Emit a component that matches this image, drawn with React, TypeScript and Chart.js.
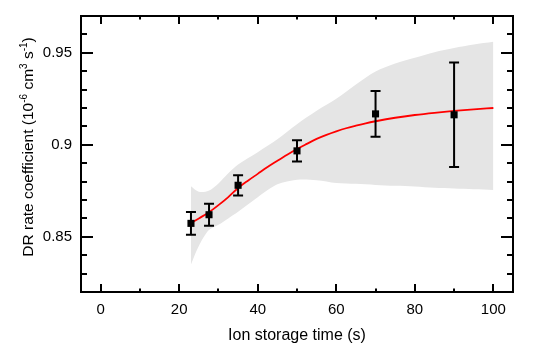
import React, { useEffect, useRef } from "react";
import { Chart, registerables } from "chart.js";

Chart.register(...registerables);

// Measured points with error bars
const pointTimes = [23, 27.6, 35, 50, 70, 90];
const pointRates = [0.8573, 0.862, 0.878, 0.8967, 0.9168, 0.9163];
const pointErrors = [0.0062, 0.006, 0.0055, 0.0058, 0.0124, 0.0284];

// Red fitted curve
const fitTimes = [23, 25, 27.5, 30, 32.5, 35, 37.5, 40, 42.5, 45, 47.5, 50, 52.5, 55, 57.5, 60, 62.5, 65, 67.5, 70, 75, 80, 85, 90, 95, 100];
const fitRates = [0.8574, 0.86, 0.8632, 0.8672, 0.8716, 0.8765, 0.8805, 0.8842, 0.8879, 0.8913, 0.8946, 0.8977, 0.9005, 0.9032, 0.9054, 0.9073, 0.909, 0.9104, 0.9117, 0.9128, 0.9147, 0.9162, 0.9174, 0.9184, 0.9193, 0.92];

// Grey uncertainty band
const bandTimes = [23, 25, 27.5, 30, 32.5, 35, 40, 45, 50, 55, 60, 65, 70, 75, 80, 85, 90, 95, 100];
const bandLower = [0.835, 0.845, 0.8535, 0.8565, 0.86, 0.8636, 0.8715, 0.8785, 0.881, 0.8808, 0.8793, 0.8788, 0.8782, 0.8777, 0.8773, 0.8766, 0.8762, 0.8758, 0.8755];
const bandUpper = [0.8775, 0.8745, 0.875, 0.879, 0.8845, 0.8893, 0.896, 0.903, 0.9112, 0.9185, 0.925, 0.9328, 0.9398, 0.9442, 0.9473, 0.9503, 0.9526, 0.9545, 0.956];

// Axes
const xMin = -5;
const xMax = 105;
const yMin = 0.82;
const yMax = 0.97;
const xTicks = [0, 20, 40, 60, 80, 100];
const xMinorTicks = [10, 30, 50, 70, 90];
const yTicks = [0.85, 0.9, 0.95];
const yMinorTicks = [0.83, 0.84, 0.86, 0.87, 0.88, 0.89, 0.91, 0.92, 0.93, 0.94, 0.96];
const xTitle = "Ion storage time (s)";

const FONT = "'Liberation Sans', Arial, sans-serif";

const decorPlugin = {
  id: "decor",
  afterDatasetsDraw(chart: any) {
    const { ctx, chartArea: a, scales } = chart;
    const x = scales.x;
    const y = scales.y;
    ctx.save();
    ctx.strokeStyle = "#000";
    ctx.lineWidth = 2;
    ctx.lineCap = "butt";
    // error bars
    pointTimes.forEach((t, i) => {
      const px = x.getPixelForValue(t);
      const top = y.getPixelForValue(pointRates[i] + pointErrors[i]);
      const bot = y.getPixelForValue(pointRates[i] - pointErrors[i]);
      ctx.beginPath();
      ctx.moveTo(px, top);
      ctx.lineTo(px, bot);
      ctx.moveTo(px - 5, top);
      ctx.lineTo(px + 5, top);
      ctx.moveTo(px - 5, bot);
      ctx.lineTo(px + 5, bot);
      ctx.stroke();
    });
    // frame
    ctx.strokeRect(a.left, a.top, a.right - a.left, a.bottom - a.top);
    // ticks
    ctx.beginPath();
    const xt = (v: number, len: number) => {
      const px = Math.round(x.getPixelForValue(v));
      ctx.moveTo(px, a.bottom);
      ctx.lineTo(px, a.bottom - len);
      ctx.moveTo(px, a.top);
      ctx.lineTo(px, a.top + len);
    };
    const yt = (v: number, len: number) => {
      const py = Math.round(y.getPixelForValue(v));
      ctx.moveTo(a.left, py);
      ctx.lineTo(a.left + len, py);
      ctx.moveTo(a.right, py);
      ctx.lineTo(a.right - len, py);
    };
    xTicks.forEach((v) => xt(v, 8));
    xMinorTicks.forEach((v) => xt(v, 3.5));
    yTicks.forEach((v) => yt(v, 12));
    yMinorTicks.forEach((v) => yt(v, 6));
    ctx.stroke();

    // x title
    ctx.fillStyle = "#000";
    ctx.font = `16px ${FONT}`;
    ctx.textAlign = "center";
    ctx.textBaseline = "middle";
    ctx.fillText(xTitle, (a.left + a.right) / 2, 336);

    // y title with superscripts
    const parts: [string, boolean][] = [
      ["DR rate coefficient (10", false],
      ["-6", true],
      [" cm", false],
      ["3", true],
      [" s", false],
      ["-1", true],
      [")", false],
    ];
    const mainFont = `15.5px ${FONT}`;
    const supFont = `10px ${FONT}`;
    let total = 0;
    const widths = parts.map(([s, sup]) => {
      ctx.font = sup ? supFont : mainFont;
      const w = ctx.measureText(s).width;
      total += w;
      return w;
    });
    ctx.translate(27, 147);
    ctx.rotate(-Math.PI / 2);
    ctx.textAlign = "left";
    ctx.textBaseline = "alphabetic";
    let cx = -total / 2;
    parts.forEach(([s, sup], i) => {
      ctx.font = sup ? supFont : mainFont;
      ctx.fillText(s, cx, sup ? -0.5 : 6);
      cx += widths[i];
    });
    ctx.restore();
  },
};

export default function App() {
  const ref = useRef<HTMLCanvasElement | null>(null);
  useEffect(() => {
    if (!ref.current) return;
    const chart = new Chart(ref.current, {
      type: "line",
      data: {
        datasets: [
          {
            label: "Measured",
            data: pointTimes.map((t, i) => ({ x: t, y: pointRates[i] })),
            showLine: false,
            pointStyle: "rect",
            pointRadius: 5,
            pointBorderWidth: 0,
            pointBackgroundColor: "#000",
            borderColor: "#000",
            order: 0,
          },
          {
            label: "Fit",
            data: fitTimes.map((t, i) => ({ x: t, y: fitRates[i] })),
            borderColor: "#ff0000",
            borderWidth: 1.8,
            pointRadius: 0,
            cubicInterpolationMode: "monotone",
            fill: false,
            order: 1,
          },
          {
            label: "Lower",
            data: bandTimes.map((t, i) => ({ x: t, y: bandLower[i] })),
            borderColor: "rgba(0,0,0,0)",
            borderWidth: 0,
            pointRadius: 0,
            tension: 0.3,
            fill: false,
            order: 3,
          },
          {
            label: "Upper",
            data: bandTimes.map((t, i) => ({ x: t, y: bandUpper[i] })),
            borderColor: "rgba(0,0,0,0)",
            borderWidth: 0,
            pointRadius: 0,
            tension: 0.3,
            backgroundColor: "#e5e5e5",
            fill: "-1",
            order: 2,
          },
        ],
      },
      options: {
        animation: false,
        responsive: false,
        layout: { padding: { left: 0, top: 16, right: 27, bottom: 0 } },
        plugins: {
          legend: { display: false },
          tooltip: { enabled: false },
        },
        scales: {
          x: {
            type: "linear",
            min: xMin,
            max: xMax,
            grid: { display: false },
            border: { display: false },
            ticks: {
              font: { size: 15, family: FONT },
              color: "#000",
              padding: 1,
              maxRotation: 0,
              callback: (v: any) => String(v),
            },
            afterBuildTicks: (s: any) => {
              s.ticks = xTicks.map((v) => ({ value: v }));
            },
            afterFit: (s: any) => {
              s.height = 57;
            },
          },
          y: {
            type: "linear",
            min: yMin,
            max: yMax,
            grid: { display: false },
            border: { display: false },
            ticks: {
              font: { size: 15, family: FONT },
              color: "#000",
              padding: 1,
              callback: (v: any) => String(Math.round(v * 100) / 100),
            },
            afterBuildTicks: (s: any) => {
              s.ticks = yTicks.map((v) => ({ value: v }));
            },
            afterFit: (s: any) => {
              s.width = 81;
            },
          },
        },
      },
      plugins: [decorPlugin],
    });
    return () => chart.destroy();
  }, []);
  return (
    <div style={{ position: "fixed", left: 0, top: 0, width: 540, height: 349, background: "#fff" }}>
      <canvas ref={ref} width={540} height={349} style={{ display: "block" }} />
    </div>
  );
}
